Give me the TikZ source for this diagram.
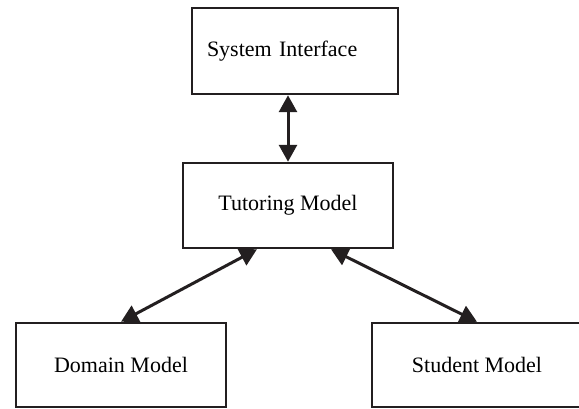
\documentclass[tikz,border=0pt]{standalone}
\usepackage{fontspec}
\setmainfont{Liberation Serif}
\usepackage{tikz}
\usepackage{xcolor}
\usetikzlibrary{arrows.meta}
\definecolor{ink}{HTML}{231F20}

\begin{document}
\begin{tikzpicture}[x=1pt, y=1pt,
    model/.style={draw=ink, line width=2.5pt, fill=white,
                  minimum width=210pt, minimum height=85pt,
                  font=\fontsize{22}{26}\selectfont},
    link/.style={draw=ink, line width=3pt,
                 {Triangle[length=17pt,width=18pt]}-{Triangle[length=17pt,width=18pt]}}]
    \useasboundingbox (0,0) rectangle (579,408);

    % the four components
    \node[model, minimum width=206pt, minimum height=86pt,
          text width=176pt, inner xsep=15pt, align=left] (iface) at (295,357) {System Interface};
    \node[model] (tutor) at (288,202.5) {Tutoring Model};
    \node[model, minimum height=84pt] (domain) at (121,43) {Domain Model};
    \node[model, minimum height=84pt] (student) at (477,43) {Student Model};

    % two-way links
    \draw[link] (iface.south -| tutor.north) -- (tutor.north);
    \draw[link] ([xshift=-31pt]tutor.south) -- (domain.north);
    \draw[link] ([xshift=43pt]tutor.south) -- (student.north);
\end{tikzpicture}
\end{document}
